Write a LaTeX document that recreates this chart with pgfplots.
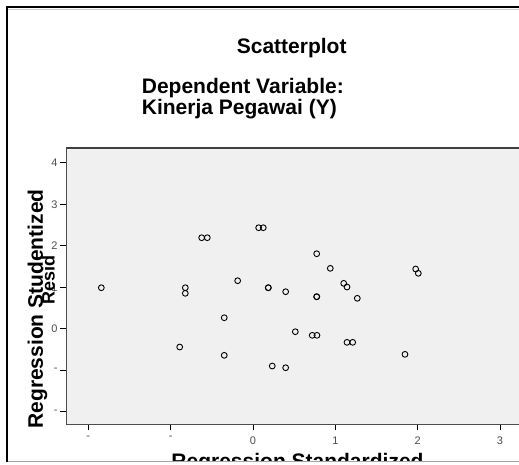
\documentclass[border=0pt]{standalone}
\usepackage{fontspec}
\setmainfont{Liberation Sans}
\usepackage{pgfplots}
\pgfplotsset{compat=1.18}

\begin{document}
\begin{tikzpicture}[x=1pt,y=1pt]
\useasboundingbox (0,0) rectangle (519,464);
\begin{scope}
\clip (0,2.3) rectangle (519,464);
\begin{axis}[
    at={(66pt,40pt)}, anchor=south west,
    scale only axis,
    width=453pt, height=276pt,
    xmin=-2.271, xmax=3.231,
    ymin=-2.296, ymax=4.355,
    axis line style={draw=none},
    axis background/.style={fill=gray!12},
    tick align=outside,
    major tick length=6pt,
    xtick={-2,-1,0,1,2,3}, xticklabels={-,-,0,1,2,3},
    ytick={-2,-1,0,1,2,3,4}, yticklabels={-,-,0,1,2,3,4},
    xtick pos=bottom, ytick pos=left,
    tick style={black, line width=0.7pt},
    tick label style={font=\fontsize{11}{11}\selectfont, text=black!70},
    xticklabel style={yshift=-3pt},
    yticklabel style={xshift=1pt},
    clip=false,
]
\addplot[only marks, mark=o, mark size=2.9pt, mark options={line width=0.9pt, black}]
    coordinates {
    (-1.842,0.988) (-0.822,0.988) (-0.822,0.853) (-0.890,-0.441)
    (-0.623,2.193) (-0.555,2.193) (-0.349,0.265) (-0.349,-0.641)
    (-0.186,1.157) (0.069,2.434) (0.125,2.434) (0.186,0.988) (0.186,0.988)
    (0.234,-0.899) (0.397,0.892) (0.397,-0.940) (0.514,-0.072)
    (0.720,-0.159) (0.777,-0.159) (0.774,1.807) (0.774,0.771) (0.774,0.771)
    (0.939,1.455) (1.102,1.094) (1.142,1.005) (1.142,-0.328) (1.211,-0.328)
    (1.267,0.733) (1.846,-0.617) (1.976,1.439) (2.008,1.335)
    };
\draw[black!75, line width=1.7pt] (rel axis cs:0,1) -- (rel axis cs:1,1);
\draw[black!70, line width=0.8pt] (rel axis cs:0,0) -- (rel axis cs:0,1);
\draw[black!70, line width=0.8pt] (rel axis cs:0,0) -- (rel axis cs:1,0);
\end{axis}
\node[anchor=base, inner sep=0, font=\fontsize{21}{24}\selectfont\bfseries] at (291.7,410.7) {Scatterplot};
\node[anchor=base west, inner sep=0, font=\fontsize{21}{24}\selectfont\bfseries] at (141.7,370.7) {Dependent Variable:};
\node[anchor=base west, inner sep=0, font=\fontsize{21}{24}\selectfont\bfseries] at (141.7,349) {Kinerja Pegawai (Y)};
\node[anchor=base, inner sep=0, rotate=90, font=\fontsize{21}{24}\selectfont\bfseries] at (43,155) {Regression Studentized};
\node[anchor=base, inner sep=0, rotate=90, font=\fontsize{18}{20}\selectfont\bfseries] at (54.5,184) {Resid};
\node[anchor=base, inner sep=0, font=\fontsize{21}{24}\selectfont\bfseries] at (297.5,-4) {Regression Standardized};
\end{scope}
\draw[gray!70, line width=1pt] (7,2.3) -- (519,2.3);
\draw[gray!40, line width=0.8pt] (8.2,455) -- (519,455);
\draw[black, line width=2.3pt] (7,2) -- (7,456.8);
\draw[black, line width=2.3pt] (5.85,456.8) -- (519,456.8);
\end{tikzpicture}
\end{document}
